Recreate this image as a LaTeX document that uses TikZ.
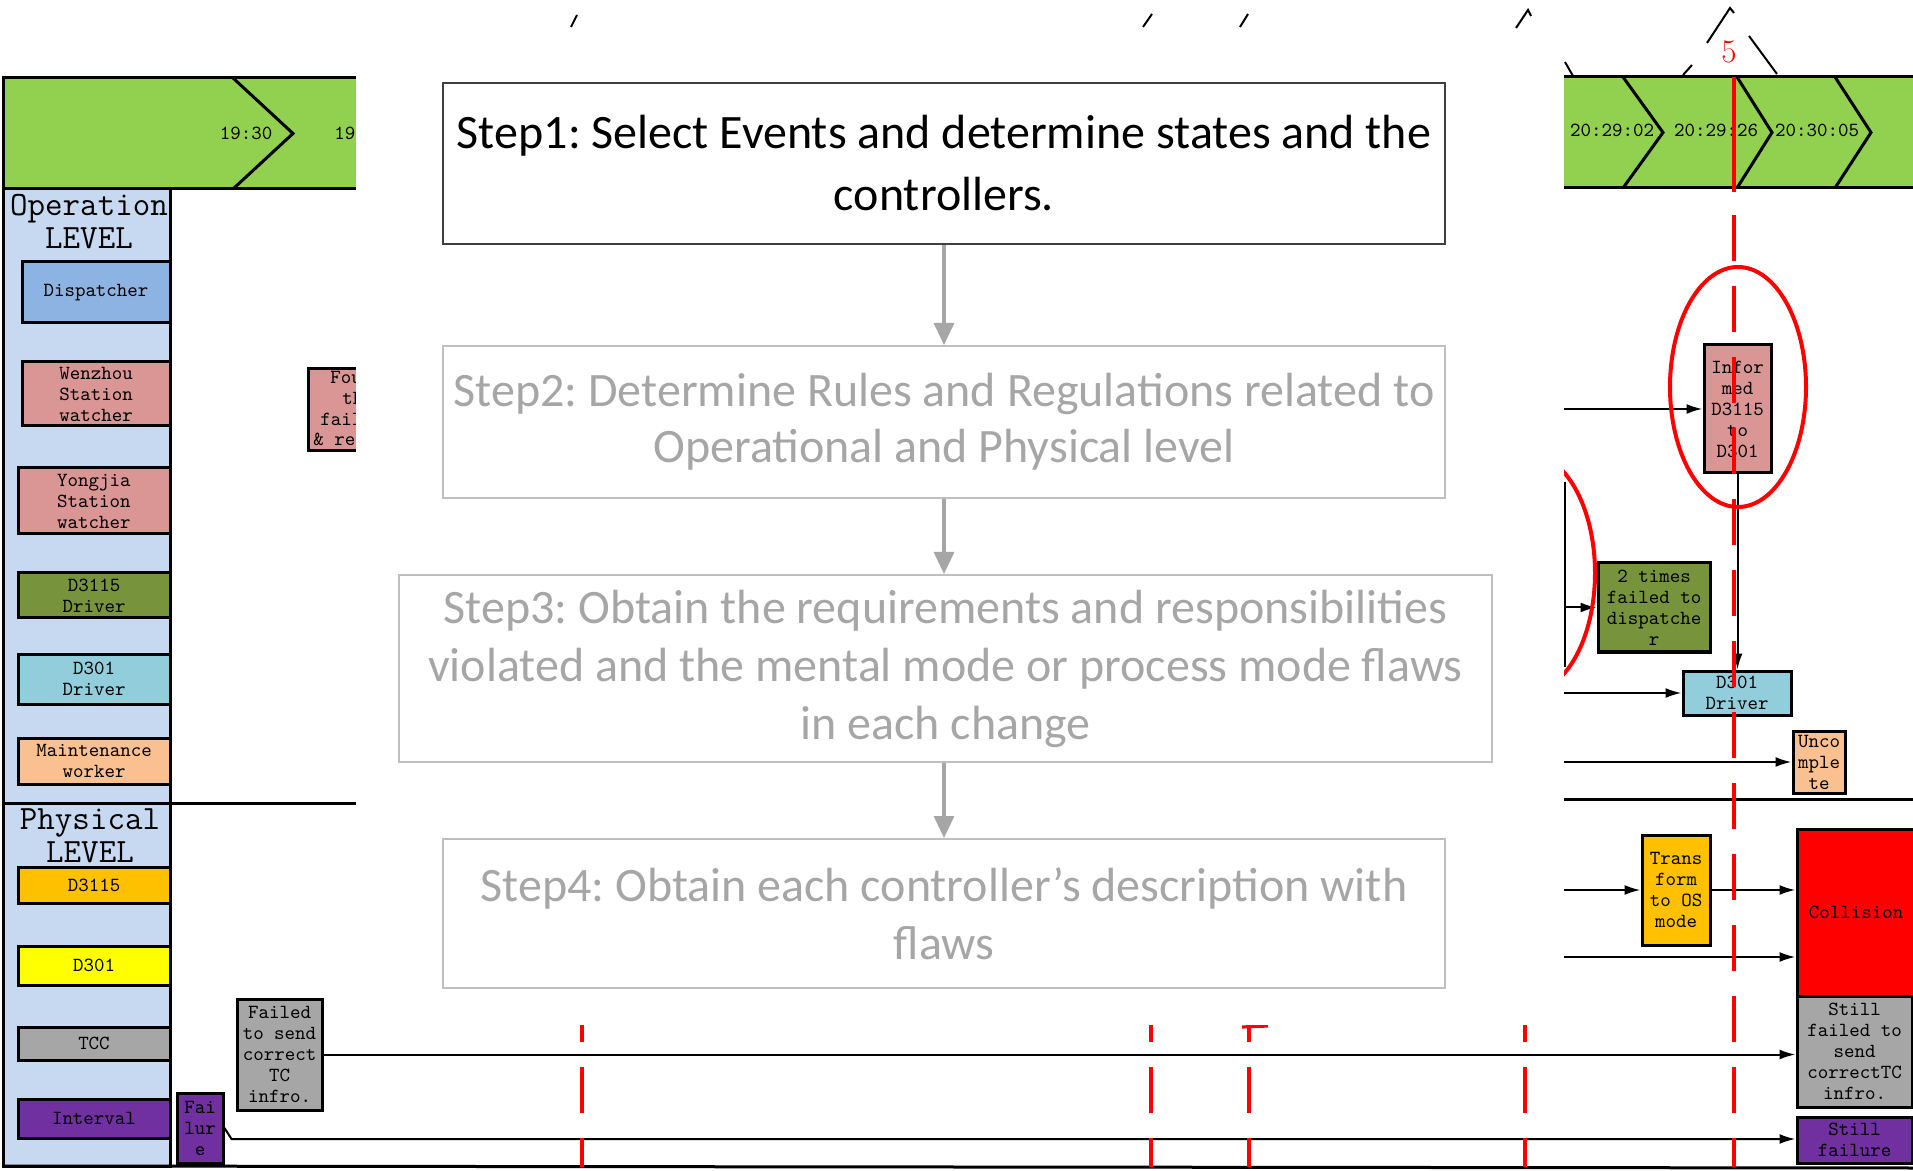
\documentclass[tikz,border=0pt]{standalone}
\usepackage{fontspec}
\newfontfamily\stepfont{Carlito}
\usetikzlibrary{arrows.meta}
\definecolor{band}{HTML}{92D050}
\definecolor{colbg}{HTML}{C6D9F0}
\definecolor{dispc}{HTML}{8DB3E2}
\definecolor{pinkc}{HTML}{DA9694}
\definecolor{olivec}{HTML}{77933C}
\definecolor{tealc}{HTML}{92CDDC}
\definecolor{peachc}{HTML}{FAC090}
\definecolor{orangec}{HTML}{FFC000}
\definecolor{yellowc}{HTML}{FFFF00}
\definecolor{grayc}{HTML}{A6A6A6}
\definecolor{purplec}{HTML}{7030A0}
\definecolor{stepborder}{HTML}{BFBFBF}
\definecolor{stepfirst}{HTML}{3F3F3F}
\definecolor{steptext}{HTML}{A6A6A6}
\frenchspacing
\newcommand\boxfont{\ttfamily\addfontfeature{FakeBold=1}}
\begin{document}
\begin{tikzpicture}[x=0.5pt,y=-0.5pt,
  lane/.style={draw=black, line width=1.5pt},
  tbox/.style={draw=black, line width=1.5pt, inner sep=0pt, align=center,
    font=\boxfont\fontsize{10}{10.5}\selectfont, text=black},
  btext/.style={inner sep=0pt, font=\boxfont\fontsize{10}{10.5}\selectfont},
  lvl/.style={align=center, inner sep=0pt, font=\boxfont\fontsize{17}{16.5}\selectfont},
  flow/.style={line width=1pt, -{Latex[length=8pt,width=5pt]}},
  stepbox/.style={draw=stepborder, line width=1pt, align=center, inner sep=0pt,
    text=steptext},
  steparrow/.style={draw=grayc, line width=1.6pt, -{Triangle[length=11pt,width=10pt]}},
  guide/.style={red, line width=1.6pt, dash pattern=on 23pt off 12.5pt},
  tick/.style={line width=1pt},
]
\useasboundingbox (0,0) rectangle (1913,1171);

% ---- time band, left part
\fill[band] (3,78) rectangle (400,189);
\draw[lane] (400,78) -- (3,78) -- (3,189) -- (400,189);
\draw[lane] (233,78) -- (293,133.5) -- (233,189);
\node[btext] (t1930) at (246,133) {19:30};
\node[btext, anchor=west] (t19) at (334,133) {19};

% ---- time band, right part
\fill[band] (1530,77) rectangle (1913,188);
\draw[lane] (1530,77) -- (1913,77);
\draw[lane] (1530,188) -- (1913,188);
\draw[lane] (1623,77) -- (1663,132.5) -- (1623,188);
\draw[lane] (1737,77) -- (1772,132.5) -- (1737,188);
\draw[lane] (1835,77) -- (1871,132.5) -- (1835,188);
\node[btext] (t2902) at (1612,130) {20:29:02};
\node[btext] (t2926) at (1716,130) {20:29:26};
\node[btext] (t3005) at (1817,130) {20:30:05};

% ---- controller column
\draw[lane, fill=colbg] (3,189) rectangle (170,1166);
\draw[lane] (3,803) -- (400,803);
\draw[lane] (1530,799) -- (1913,799);
\draw[lane] (3,1166) -- (1913,1168);
\node[lvl] (oplevel) at (89,221.5) {Operation\\LEVEL};
\node[lvl] (phlevel) at (90,835.5) {Physical\\LEVEL};

\node[tbox, fill=dispc,   minimum width=74pt, minimum height=30.5pt] (disp)  at (96,292.5) {Dispatcher};
\node[tbox, fill=pinkc,   minimum width=74pt, minimum height=32pt]   (wenz)  at (96,394)   {Wenzhou\\Station\\watcher};
\node[tbox, fill=pinkc,   minimum width=76pt, minimum height=33pt]   (yong)  at (94,501)   {Yongjia\\Station\\watcher};
\node[tbox, fill=olivec,  minimum width=76pt, minimum height=22.5pt] (drvA)  at (94,595.5) {D3115\\Driver};
\node[tbox, fill=tealc,   minimum width=76pt, minimum height=25pt]   (drvB)  at (94,679)   {D301\\Driver};
\node[tbox, fill=peachc,  minimum width=76pt, minimum height=23pt]   (maint) at (94,761)   {Maintenance\\worker};
\node[tbox, fill=orangec, minimum width=76pt, minimum height=18pt]   (trA)   at (94,885)   {D3115};
\node[tbox, fill=yellowc, minimum width=76pt, minimum height=19.5pt] (trB)   at (94,965.5) {D301};
\node[tbox, fill=grayc,   minimum width=76pt, minimum height=16.5pt] (tcc)   at (94,1043.5) {TCC};
\node[tbox, fill=purplec, minimum width=76pt, minimum height=19.5pt] (intv)  at (94,1118.5) {Interval};

% ---- events on the left
\node[tbox, fill=pinkc, anchor=north west, minimum width=60pt, minimum height=41pt] (found) at (307,367) {};
\node[btext, anchor=base west] (fA) at (330,384) {Fou};
\node[btext, anchor=base west] (fB) at (342,405) {th};
\node[btext, anchor=base west] (fC) at (320,426) {fail};
\node[btext, anchor=base west] (fD) at (313,446) {\& re};
\node[tbox, fill=purplec, minimum width=23pt, minimum height=35pt] (failure) at (200,1128) {Fai\\lur\\e};
\node[tbox, fill=grayc, minimum width=42.5pt, minimum height=55.5pt] (failsend) at (279.5,1054.5) {Failed\\to send\\correct\\TC\\infro.};

% ---- events on the right
\node[tbox, fill=pinkc,   minimum width=33.5pt, minimum height=64pt]   (informed) at (1737.5,409) {Infor\\med\\D3115\\to\\D301};
\node[tbox, fill=olivec,  minimum width=56pt,   minimum height=44.5pt] (twotimes) at (1654,607.5) {2 times\\failed to\\dispatche\\r};
\node[tbox, fill=tealc,   minimum width=54pt,   minimum height=22pt]   (drvR)     at (1737,693)   {D301\\Driver};
\node[tbox, fill=peachc,  minimum width=26pt,   minimum height=31pt]   (uncomp)   at (1819,762)   {Unco\\mple\\te};
\node[tbox, fill=orangec, minimum width=34pt,   minimum height=55pt]   (trans)    at (1676,890)   {Trans\\form\\to OS\\mode};
\node[tbox, fill=red,     minimum width=59pt,   minimum height=83.5pt] (collision) at (1856,912.5) {Collision};
\node[tbox, fill=grayc,   minimum width=57.5pt, minimum height=55.5pt] (stillsend) at (1854.5,1051.5) {Still\\failed to\\send\\correctTC\\infro.};
\node[tbox, fill=purplec, minimum width=57.5pt, minimum height=23pt]   (stillfail) at (1854.5,1140) {Still\\failure};

% ---- connectors
\coordinate (inA) at (1564,409);
\coordinate (inB) at (1565,607.5);
\coordinate (inC) at (1564,693);
\coordinate (inD) at (1564,762);
\coordinate (inE) at (1564,890);
\coordinate (inF) at (1564,957);
\draw[flow] (inA) -- (informed.west);
\draw[line width=1pt] (1565,482) -- (1565,667);
\draw[flow] (inB) -- (twotimes.west);
\draw[flow] (inC) -- (drvR.west);
\draw[flow] (inD) -- (uncomp.west);
\draw[flow] (inE) -- (trans.west);
\draw[flow] (trans.east) -- (trans.east -| collision.west);
\draw[flow] (inF) -- (inF -| collision.west);
\draw[flow] (informed.south) -- (informed.south |- drvR.north);
\draw[flow] (failsend.east) -- (failsend.east -| stillsend.west);
\draw[flow] (failure.east) -- ++(7,11) coordinate (fk) -- (fk -| stillfail.west);

% ---- highlight ellipses and time guides
\draw[red, line width=2pt] (1738,387) ellipse [x radius=68, y radius=120];
\draw[red, line width=2pt] (1527,573) ellipse [x radius=68, y radius=120];
\draw[red, line width=1.6pt] (1734,77) -- (1734,192);
\draw[guide] (1734,215) -- (1734,1167);
\foreach \gx in {582,1151,1249,1525}
  \draw[guide] (\gx,996) -- (\gx,1167);
\draw[red, line width=1.6pt] (1242,1027) -- (1268,1026);
\node[text=red, inner sep=0pt, font=\fontsize{16.5}{16.5}\selectfont] (five) at (1729,52) {5};

% ---- marks above the band
\draw[tick] (571,27) -- (577,15);
\draw[tick] (1143,27) -- (1152,14);
\draw[tick] (1240,27) -- (1248,14);
\draw[tick] (1516,28) -- (1528,10) -- (1531,16);
\draw[tick] (1565,62) -- (1573,76);
\draw[tick] (1683,75) -- (1692,65);
\draw[tick] (1707,43) -- (1730,8) -- (1734,13);
\draw[tick] (1749,36) -- (1777,74);

% ---- method panel
\fill[white] (356,32) rectangle (1564,1025);
\node[stepbox, draw=stepfirst, text=black, minimum width=501pt, minimum height=80.5pt,
  font=\stepfont\fontsize{24}{31}\selectfont] (s1) at (944,163.5)
  {Step1: Select Events and determine states and the\\controllers.};
\node[stepbox, minimum width=501pt, minimum height=76pt,
  font=\stepfont\fontsize{24}{28}\selectfont] (s2) at (944,422)
  {Step2: Determine Rules and Regulations related to\\Operational and Physical level};
\node[stepbox, minimum width=546.5pt, minimum height=93.5pt,
  font=\stepfont\fontsize{24}{29}\selectfont] (s3) at (945.5,668.5)
  {Step3: Obtain the requirements and responsibilities\\violated and the mental mode or process mode flaws\\in each change};
\node[stepbox, minimum width=501pt, minimum height=74.5pt,
  font=\stepfont\fontsize{24}{29}\selectfont] (s4) at (944,913.5)
  {Step4: Obtain each controller’s description with\\flaws};
\draw[steparrow] (s1.south) -- (s2.north);
\draw[steparrow] (s2.south) -- (s2.south |- s3.north);
\draw[steparrow] (s2.south |- s3.south) -- (s4.north);
\end{tikzpicture}
\end{document}
